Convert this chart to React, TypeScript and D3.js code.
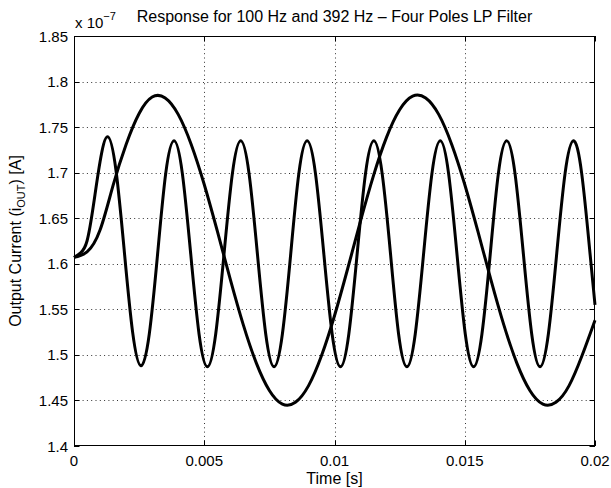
import React, { useEffect, useRef } from "react";
import * as d3 from "d3";

// time in ms, current in units of 1e-7 A
const time100 = [
  0, 0.5, 1.0, 1.5, 2.0, 2.5, 3.0, 3.5, 4.0, 4.5, 5.0, 5.5, 6.0, 6.5, 7.0, 7.5,
  8.0, 8.5, 9.0, 9.5, 10.0, 10.5, 11.0, 11.5, 12.0, 12.5, 13.0, 13.5, 14.0,
  14.5, 15.0, 15.5, 16.0, 16.5, 17.0, 17.5, 18.0, 18.5, 19.0, 19.5, 20.0,
];
const current100 = [
  1.607, 1.613, 1.637, 1.686, 1.731, 1.765, 1.783, 1.782, 1.764, 1.731, 1.687,
  1.636, 1.583, 1.533, 1.491, 1.461, 1.446, 1.448, 1.466, 1.499, 1.543, 1.594,
  1.647, 1.697, 1.739, 1.769, 1.784, 1.782, 1.764, 1.731, 1.687, 1.636, 1.583,
  1.533, 1.491, 1.461, 1.446, 1.448, 1.466, 1.499, 1.538,
];

const time392 = [
  0, 0.25, 0.5, 0.75, 1.0, 1.29, 1.61, 1.93, 2.25, 2.57, 2.89, 3.21, 3.52,
  3.84, 4.16, 4.48, 4.8, 5.12, 5.44, 5.76, 6.08, 6.4, 6.72, 7.04, 7.36, 7.68,
  8.0, 8.32, 8.63, 8.95, 9.27, 9.59, 9.91, 10.23, 10.55, 10.87, 11.19, 11.51,
  11.83, 12.15, 12.46, 12.78, 13.1, 13.42, 13.74, 14.06, 14.38, 14.7, 15.02,
  15.34, 15.66, 15.98, 16.29, 16.61, 16.93, 17.25, 17.57, 17.89, 18.21, 18.53,
  18.85, 19.17, 19.49, 19.81, 20.0,
];
const current392 = [
  1.607, 1.612, 1.625, 1.665, 1.712, 1.7395, 1.703, 1.614, 1.525, 1.488, 1.523,
  1.611, 1.699, 1.735, 1.699, 1.611, 1.523, 1.487, 1.523, 1.611, 1.699, 1.735,
  1.699, 1.611, 1.523, 1.487, 1.523, 1.611, 1.699, 1.735, 1.699, 1.611, 1.523,
  1.487, 1.523, 1.611, 1.699, 1.735, 1.699, 1.611, 1.523, 1.487, 1.523, 1.611,
  1.699, 1.735, 1.699, 1.611, 1.523, 1.487, 1.523, 1.611, 1.699, 1.735, 1.699,
  1.611, 1.523, 1.487, 1.523, 1.611, 1.699, 1.735, 1.699, 1.611, 1.555,
];

const xTicks = [0, 0.005, 0.01, 0.015, 0.02];
const yTicks = [1.4, 1.45, 1.5, 1.55, 1.6, 1.65, 1.7, 1.75, 1.8, 1.85];

const FONT = "'Liberation Sans', Arial, Helvetica, sans-serif";

const App = () => {
  const ref = useRef<SVGSVGElement>(null);

  useEffect(() => {
    document.body.style.margin = "0";
    const svg = d3.select(ref.current);
    svg.selectAll("*").remove();

    const left = 74,
      right = 595,
      top = 36,
      bottom = 446;

    const x = d3.scaleLinear().domain([0, 0.02]).range([left, right]);
    const y = d3.scaleLinear().domain([1.4, 1.85]).range([bottom, top]);

    svg.append("rect").attr("width", 611).attr("height", 488).attr("fill", "#fff");

    // dotted grid
    const grid = svg.append("g").attr("stroke", "#333").attr("stroke-width", 1)
      .attr("stroke-dasharray", "1 3.3");
    xTicks.slice(1, -1).forEach((t) => {
      grid.append("line")
        .attr("x1", Math.round(x(t)) + 0.5).attr("x2", Math.round(x(t)) + 0.5)
        .attr("y1", top).attr("y2", bottom);
    });
    yTicks.slice(1, -1).forEach((t) => {
      grid.append("line")
        .attr("x1", left).attr("x2", right)
        .attr("y1", Math.round(y(t)) + 0.5).attr("y2", Math.round(y(t)) + 0.5);
    });

    // curves
    const line = d3.line<number>().curve(d3.curveNatural);
    const draw = (ts: number[], vs: number[]) => {
      svg.append("path")
        .attr("d", line.x((_, i) => x(ts[i] / 1000)).y((d) => y(d))(vs))
        .attr("fill", "none")
        .attr("stroke", "#000")
        .attr("stroke-width", 3)
        .attr("stroke-linejoin", "round");
    };
    draw(time100, current100);
    draw(time392, current392);

    // box
    svg.append("rect")
      .attr("x", left + 0.5).attr("y", top + 0.5)
      .attr("width", right - left - 1).attr("height", bottom - top - 1)
      .attr("fill", "none").attr("stroke", "#000").attr("stroke-width", 1);

    // inward ticks on all four sides
    const tl = 5.5;
    const ticks = svg.append("g").attr("stroke", "#000").attr("stroke-width", 1);
    xTicks.forEach((t) => {
      const px = Math.round(x(t)) + 0.5;
      ticks.append("line").attr("x1", px).attr("x2", px).attr("y1", bottom).attr("y2", bottom - tl);
      ticks.append("line").attr("x1", px).attr("x2", px).attr("y1", top).attr("y2", top + tl);
    });
    yTicks.forEach((t) => {
      const py = Math.round(y(t)) + 0.5;
      ticks.append("line").attr("x1", left).attr("x2", left + tl).attr("y1", py).attr("y2", py);
      ticks.append("line").attr("x1", right).attr("x2", right - tl).attr("y1", py).attr("y2", py);
    });

    // tick labels
    const fmt = (v: number) => String(v);
    svg.append("g").selectAll("text").data(xTicks).join("text")
      .attr("x", (d) => x(d)).attr("y", 466)
      .attr("text-anchor", "middle")
      .style("font-family", FONT).style("font-size", "15px")
      .text(fmt);
    svg.append("g").selectAll("text").data(yTicks).join("text")
      .attr("x", left - 6).attr("y", (d) => y(d) + 5.5)
      .attr("text-anchor", "end")
      .style("font-family", FONT).style("font-size", "15px")
      .text(fmt);

    // exponent
    const exp = svg.append("text").attr("x", 75).attr("y", 28)
      .style("font-family", FONT).style("font-size", "15px");
    exp.append("tspan").text("x 10");
    exp.append("tspan").attr("dy", -8).style("font-size", "11px").text("\u22127");

    // title
    svg.append("text")
      .attr("x", (left + right) / 2).attr("y", 22)
      .attr("text-anchor", "middle")
      .style("font-family", FONT).style("font-size", "16px")
      .text("Response for 100 Hz and 392 Hz \u2013 Four Poles LP Filter");

    // x label
    svg.append("text")
      .attr("x", (left + right) / 2).attr("y", 484)
      .attr("text-anchor", "middle")
      .style("font-family", FONT).style("font-size", "16px")
      .text("Time [s]");

    // y label
    const yl = svg.append("text")
      .attr("transform", `translate(21, ${(top + bottom) / 2}) rotate(-90)`)
      .attr("text-anchor", "middle")
      .style("font-family", FONT).style("font-size", "16px");
    yl.append("tspan").text("Output Current (i");
    yl.append("tspan").attr("dy", 4).style("font-size", "11px").text("OUT");
    yl.append("tspan").attr("dy", -4).text(") [A]");
  }, []);

  return <svg ref={ref} width={611} height={488} style={{ display: "block" }} />;
};

export default App;
